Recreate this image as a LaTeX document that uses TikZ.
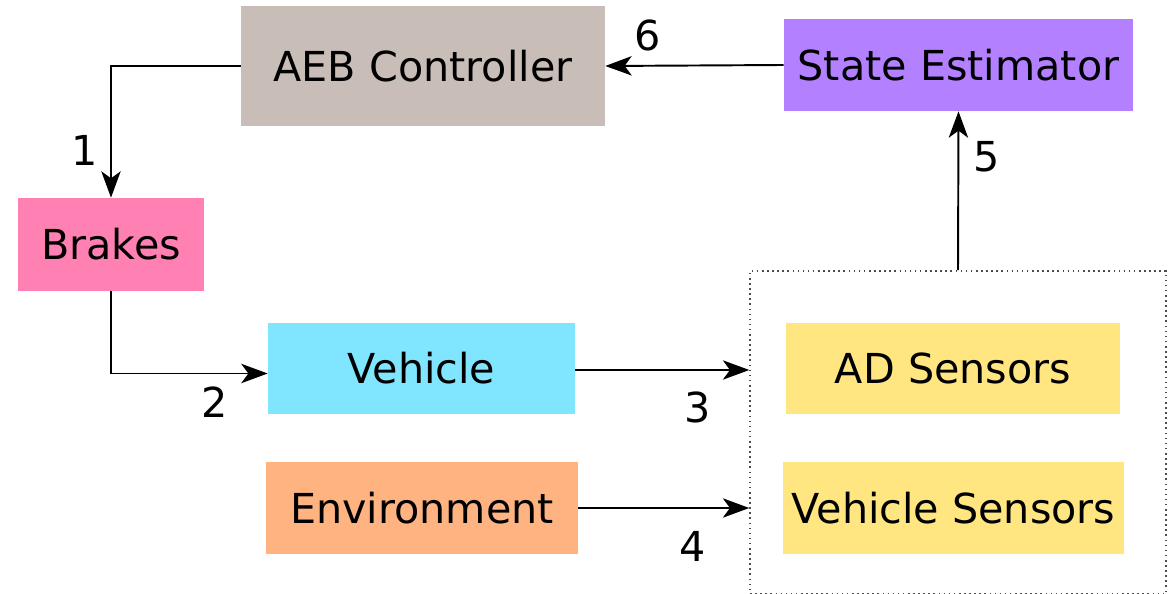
\documentclass[tikz,border=0pt]{standalone}
\usepackage{fontspec}
\setmainfont{DejaVu Sans}
\usetikzlibrary{arrows.meta}
\definecolor{aebcol}{HTML}{C8BEB7}
\definecolor{brakecol}{HTML}{FF80B2}
\definecolor{estcol}{HTML}{B380FF}
\definecolor{vehcol}{HTML}{80E5FF}
\definecolor{envcol}{HTML}{FFB380}
\definecolor{sencol}{HTML}{FFE680}
\tikzset{
  blk/.style={inner sep=0pt, font=\fontsize{23.5}{28}\selectfont},
  lbl/.style={inner sep=0pt, font=\fontsize{23.5}{28}\selectfont},
  flow/.style={draw=black, line width=1.1pt, -{Stealth[length=15pt, width=11pt, inset=4pt]}},
  group/.style={draw=black!70, dotted, line width=0.9pt, inner sep=0pt}
}
\begin{document}
\begin{tikzpicture}[x=0.02cm, y=-0.02cm]
\useasboundingbox (0,0) rectangle (1169,594);
% blocks
\node[blk, fill=aebcol, minimum width=7.28cm, minimum height=2.4cm] (aeb) at (423,66) {AEB Controller};
\node[blk, fill=estcol, minimum width=6.98cm, minimum height=1.84cm] (est) at (958.5,65) {State Estimator};
\node[blk, fill=brakecol, minimum width=3.72cm, minimum height=1.86cm] (brk) at (111,244.5) {Brakes};
\node[blk, fill=vehcol, minimum width=6.14cm, minimum height=1.82cm] (veh) at (421.5,368.5) {Vehicle};
\node[blk, fill=envcol, minimum width=6.24cm, minimum height=1.84cm] (env) at (422,508) {Environment};
% sensor group
\node[group, minimum width=8.32cm, minimum height=6.46cm] (sens) at (958,432.5) {};
\node[blk, fill=sencol, minimum width=6.68cm, minimum height=1.82cm] (ads) at (953,368.5) {AD Sensors};
\node[blk, fill=sencol, minimum width=6.82cm, minimum height=1.84cm] (vs) at (953.5,508) {Vehicle Sensors};
% connections
\draw[flow] (aeb.west) -| (brk.north);
\draw[flow] (brk.south) |- ([yshift=-0.1cm]veh.west);
\draw[flow] ([yshift=-0.03cm]veh.east) -- ([yshift=-0.03cm]veh.east -| sens.west);
\draw[flow] (env.east) -- (env.east -| sens.west);
\draw[flow] (sens.north) -- (est.south);
\draw[flow] (est.west) -- (aeb.east);
% step numbers
\node[lbl] (l1) at (85,150) {1};
\node[lbl] (l2) at (215,402) {2};
\node[lbl] (l3) at (698,407) {3};
\node[lbl] (l4) at (693,546) {4};
\node[lbl] (l5) at (987,157) {5};
\node[lbl] (l6) at (648,35) {6};
\end{tikzpicture}
\end{document}
